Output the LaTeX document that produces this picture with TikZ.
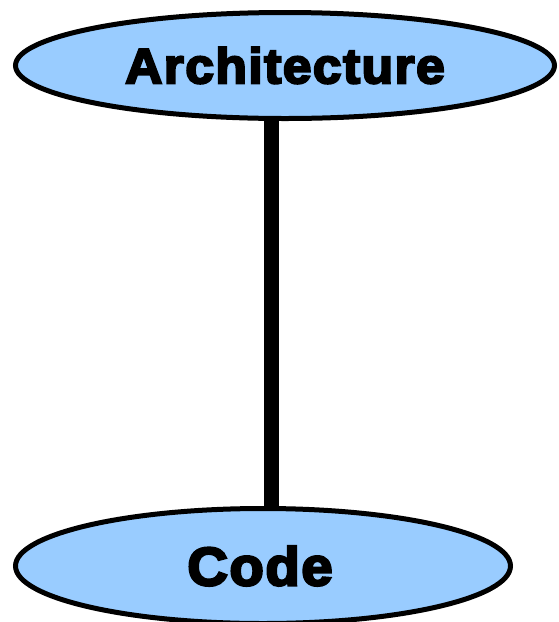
\documentclass[tikz,border=0pt]{standalone}
\usepackage{fontspec}
\usetikzlibrary{shapes.geometric,backgrounds}
% heavy, wide sans for the labels
\newfontfamily\heavysans[FakeStretch=1.04,FakeBold=4.5,LetterSpace=3]{Liberation Sans Bold}
\definecolor{bubble}{HTML}{99CCFF}
\tikzset{
  layer/.style={ellipse, draw=black, line width=5pt, fill=bubble,
    inner sep=0pt, font=\heavysans, text=black},
  stem/.style={draw=black, line width=15pt}
}
\begin{document}
\begin{tikzpicture}[x=1pt,y=-1pt]
  \useasboundingbox (0,0) rectangle (558,622);
  \clip (0,0) rectangle (558,622);
  \node[layer, minimum width=539pt, minimum height=106pt,
        font=\heavysans\fontsize{49.5}{54}\selectfont] (arch) at (285,65.5) {Architecture};
  \node[layer, minimum width=495pt, minimum height=115pt,
        font=\heavysans\fontsize{54}{58}\selectfont] (code) at (263,566) {\hspace*{-6pt}Code};
  \coordinate (axis) at (271,0);
  \begin{pgfonlayer}{background}
    \draw[stem] (axis |- arch.center) -- (axis |- code.center);
  \end{pgfonlayer}
\end{tikzpicture}
\end{document}
